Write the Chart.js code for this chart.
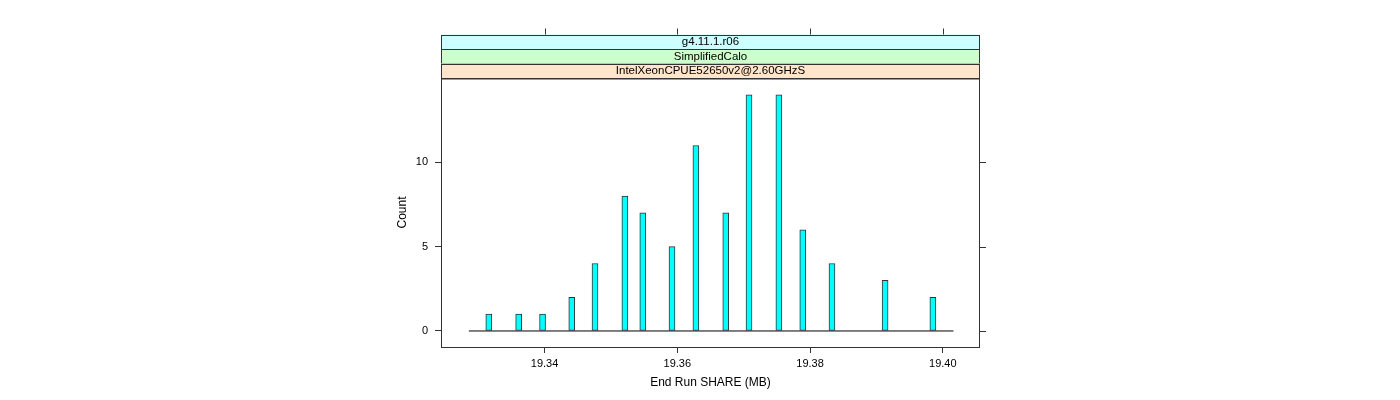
<!DOCTYPE html>
<html>
<head>
<meta charset="utf-8">
<script src="https://cdn.jsdelivr.net/npm/chart.js@4"></script>
<style>
  body { margin: 0; background: #fff; }
</style>
</head>
<body>
<canvas id="histChart" width="1400" height="400"></canvas>
<script>
// histogram values
const shareValues = [19.3316, 19.3361, 19.3397, 19.3441, 19.3476, 19.3521, 19.3548, 19.3592,
                     19.3628, 19.3673, 19.3708, 19.3753, 19.3789, 19.3833, 19.3913, 19.3985];
const counts = [1, 1, 1, 2, 4, 8, 7, 5, 11, 7, 14, 14, 6, 4, 3, 2];
const baselineRange = [19.3286, 19.4016];
const stripLabels = ['g4.11.1.r06', 'SimplifiedCalo', 'IntelXeonCPUE52650v2@2.60GHzS'];
const stripColors = ['#ccffff', '#ccffcc', '#ffe5cc'];
const xTicks = [19.34, 19.36, 19.38, 19.40];
const yTicks = [0, 5, 10];

const fontFamily = '"Liberation Sans", Arial, sans-serif';

// strips on top, frame and mirrored ticks like lattice does
const latticeDecor = {
  id: 'latticeDecor',
  afterDraw(chart) {
    const ctx = chart.ctx;
    const a = chart.chartArea;
    const xs = chart.scales.x, ys = chart.scales.y;
    const stripH = 14.5;
    ctx.save();
    ctx.lineWidth = 1;
    ctx.strokeStyle = '#333';
    // strips, bottom strip sits right on the panel
    for (let i = 0; i < stripLabels.length; i++) {
      const top = a.top - stripH * (stripLabels.length - i);
      ctx.fillStyle = stripColors[i];
      ctx.fillRect(a.left, top, a.right - a.left, stripH);
      ctx.strokeRect(a.left + 0.5, Math.round(top) + 0.5, a.right - a.left - 1, stripH);
      ctx.fillStyle = '#000';
      ctx.font = '11.5px ' + fontFamily;
      ctx.textAlign = 'center';
      ctx.textBaseline = 'middle';
      ctx.fillText(stripLabels[i], (a.left + a.right) / 2, top + stripH / 2 + 0.5);
    }
    // panel frame
    ctx.strokeRect(a.left + 0.5, a.top + 0.5, a.right - a.left - 1, a.bottom - a.top);
    // top ticks above strips
    const stripTop = a.top - stripH * stripLabels.length;
    ctx.beginPath();
    xTicks.forEach(v => {
      const px = Math.round(xs.getPixelForValue(v)) + 0.5;
      ctx.moveTo(px, stripTop);
      ctx.lineTo(px, stripTop - 6);
    });
    // right ticks
    yTicks.forEach(v => {
      const py = Math.round(ys.getPixelForValue(v)) + 0.5;
      ctx.moveTo(a.right, py);
      ctx.lineTo(a.right + 6, py);
    });
    ctx.stroke();
    ctx.restore();
  }
};

const ctx = document.getElementById('histChart').getContext('2d');
new Chart(ctx, {
  data: {
    datasets: [{
      type: 'line',
      data: [{ x: baselineRange[0], y: 0 }, { x: baselineRange[1], y: 0 }],
      borderColor: '#000',
      borderWidth: 1,
      pointRadius: 0,
      order: 2
    }, {
      type: 'bar',
      data: shareValues.map((v, i) => ({ x: v, y: counts[i] })),
      backgroundColor: '#00ffff',
      borderColor: '#333',
      borderWidth: 1,
      borderSkipped: false,
      barThickness: 6,
      order: 1
    }]
  },
  options: {
    responsive: false,
    animation: false,
    layout: { padding: { left: 380, right: 420, top: 78, bottom: 0 } },
    plugins: { legend: { display: false }, tooltip: { enabled: false } },
    scales: {
      x: {
        type: 'linear',
        min: 19.3244,
        max: 19.4056,
        offset: false,
        afterBuildTicks: s => { s.ticks = xTicks.map(v => ({ value: v })); },
        afterFit: s => { s.height = 53; },
        ticks: {
          callback: v => v.toFixed(2),
          color: '#000',
          font: { family: fontFamily, size: 11 },
          padding: 4,
          maxRotation: 0
        },
        grid: { drawOnChartArea: false, drawTicks: true, tickLength: 6, tickColor: '#333', offset: false },
        border: { display: false },
        title: {
          display: true,
          text: 'End Run SHARE (MB)',
          color: '#000',
          font: { family: fontFamily, size: 12 },
          padding: { top: 0, bottom: 10 }
        }
      },
      y: {
        min: -0.95,
        max: 15,
        afterBuildTicks: s => { s.ticks = yTicks.map(v => ({ value: v })); },
        afterFit: s => { s.width = 61; },
        ticks: {
          color: '#000',
          font: { family: fontFamily, size: 11 },
          padding: 7
        },
        grid: { drawOnChartArea: false, drawTicks: true, tickLength: 6, tickColor: '#333' },
        border: { display: false },
        title: {
          display: true,
          text: 'Count',
          color: '#000',
          font: { family: fontFamily, size: 12 },
          padding: { top: 15, bottom: 0 }
        }
      }
    }
  },
  plugins: [latticeDecor]
});
</script>
</body>
</html>
